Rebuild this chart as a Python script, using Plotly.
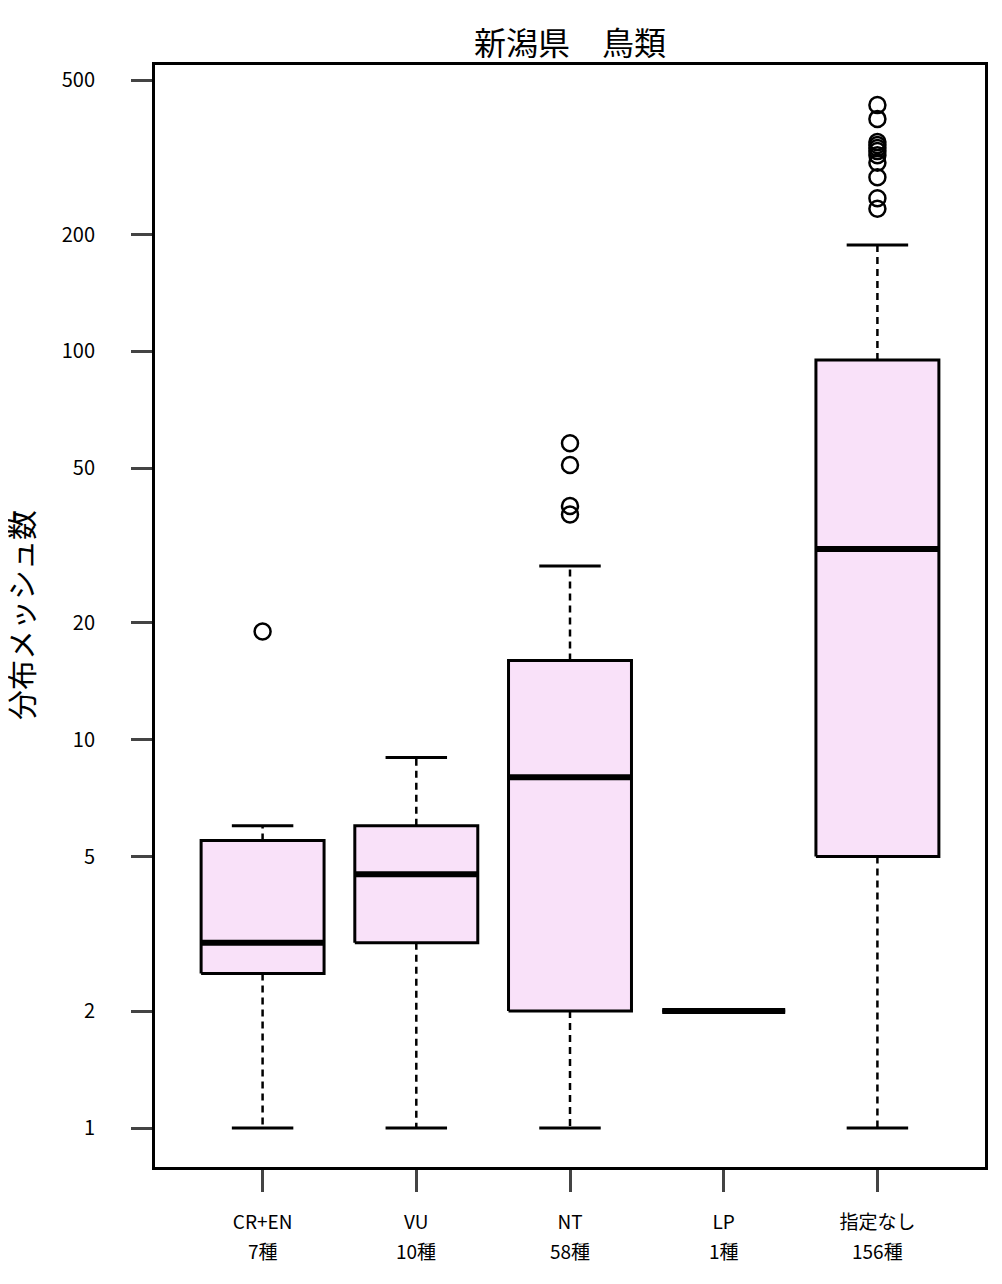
import plotly.graph_objects as go

# boxplot summary per red-list category
categories = ["CR+EN", "VU", "NT", "LP", "指定なし"]
n_species = [7, 10, 58, 1, 156]
lower = [1, 1, 1, 2, 1]
q1 = [2.5, 3, 2, 2, 5]
median = [3, 4.5, 8, 2, 31]
q3 = [5.5, 6, 16, 2, 95]
upper = [6, 9, 28, 2, 188]
outliers = [
    [19],
    [],
    [58, 51, 40, 38],
    [],
    [431, 397, 346, 340, 334, 328, 320, 306, 281, 248, 233],
]
ytick_vals = [1, 2, 5, 10, 20, 50, 100, 200, 500]

FONT = "Noto Sans CJK JP"
BOX_FILL = "#F9E1F9"
half_box = 0.4
half_cap = 0.2

fig = go.Figure()

for i, cat in enumerate(categories):
    # whiskers (dashed)
    fig.add_trace(go.Scatter(
        x=[i, i, None, i, i], y=[q3[i], upper[i], None, q1[i], lower[i]],
        mode="lines", line=dict(color="black", width=2.5, dash="7px,5px"),
        hoverinfo="skip", showlegend=False))
    # caps
    fig.add_trace(go.Scatter(
        x=[i - half_cap, i + half_cap, None, i - half_cap, i + half_cap],
        y=[upper[i], upper[i], None, lower[i], lower[i]],
        mode="lines", line=dict(color="black", width=3),
        hoverinfo="skip", showlegend=False))
    # box
    fig.add_trace(go.Scatter(
        x=[i - half_box, i + half_box, i + half_box, i - half_box, i - half_box],
        y=[q1[i], q1[i], q3[i], q3[i], q1[i]],
        mode="lines", fill="toself", fillcolor=BOX_FILL,
        line=dict(color="black", width=3),
        hoverinfo="skip", showlegend=False))
    # median
    fig.add_trace(go.Scatter(
        x=[i - half_box, i + half_box], y=[median[i], median[i]],
        mode="lines", line=dict(color="black", width=6),
        hoverinfo="skip", showlegend=False))
    # outliers
    if outliers[i]:
        fig.add_trace(go.Scatter(
            x=[i] * len(outliers[i]), y=outliers[i], mode="markers",
            marker=dict(symbol="circle-open", size=16, color="black",
                        line=dict(width=2.5)),
            showlegend=False))

# second line of each x label: species count
count_notes = [
    dict(text=f"{n}種", x=i, y=-(1250 - 1167) / 1102, xref="x", yref="paper",
         showarrow=False, xanchor="center", yanchor="middle",
         font=dict(size=19, family=FONT))
    for i, n in enumerate(n_species)
]

fig.update_layout(
    width=1002, height=1284,
    margin=dict(l=147, r=25, t=57, b=125),
    plot_bgcolor="white", paper_bgcolor="white",
    font=dict(family=FONT, color="black", size=20),
    title=dict(text="新潟県　鳥類", x=562 / 1002, xanchor="center",
               y=1 - 36 / 1284, yanchor="middle", yref="container",
               font=dict(size=32, family=FONT)),
    xaxis=dict(range=[-0.7, 4.7], tickvals=list(range(len(categories))),
               ticktext=categories, ticks="outside", ticklen=22, tickwidth=3,
               tickfont=dict(size=19),
               showgrid=False, zeroline=False, showline=True, linewidth=3,
               linecolor="black", mirror=True, ticklabelstandoff=14),
    yaxis=dict(type="log", range=[-0.1004, 2.7376], tickvals=ytick_vals,
               ticktext=[str(v) for v in ytick_vals], ticks="outside",
               ticklen=21, tickwidth=3, showgrid=False, zeroline=False,
               showline=True, linewidth=3, linecolor="black", mirror=True,
               ticklabelstandoff=32),
    annotations=count_notes + [
        dict(text="分布メッシュ数", x=(12 - 147) / 830, y=0.501,
             xref="paper", yref="paper", textangle=-90, xanchor="center",
             yanchor="middle", showarrow=False,
             font=dict(size=30, family=FONT))],
)

fig.write_html("out.html")
